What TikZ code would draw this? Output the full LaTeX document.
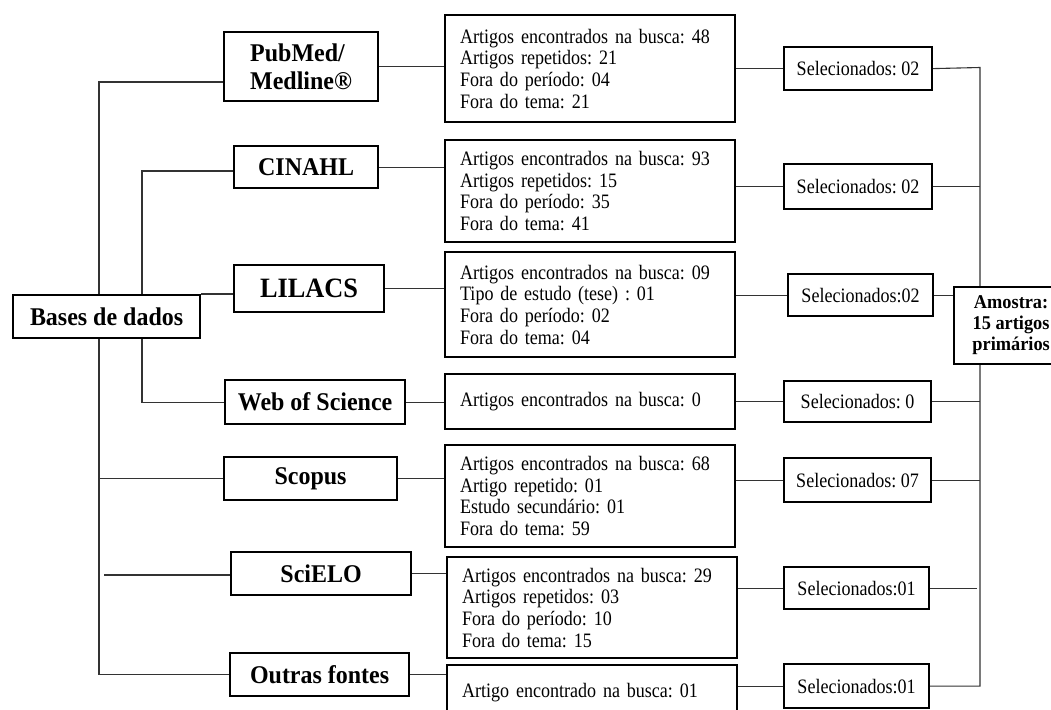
\documentclass[tikz,border=0pt]{standalone}
\usepackage{fontspec}
\setmainfont{Liberation Serif}
\newfontfamily\bodyserif[FakeStretch=0.88]{Liberation Serif}
\newfontfamily\labelserif[FakeStretch=0.94]{Liberation Serif}
\frenchspacing
\usetikzlibrary{positioning,backgrounds}

\begin{document}
\begin{tikzpicture}[x=1pt, y=-1pt,
  every node/.style={font=\bodyserif\fontsize{20.5}{21.7}\selectfont},
  dbbox/.style={draw, line width=2.2pt, fill=white, anchor=north west, inner sep=0pt, font=\labelserif\fontsize{25.5}{28}\selectfont\bfseries},
  infobox/.style={draw, line width=2.2pt, fill=white, anchor=north west, align=left, text width=260pt, inner xsep=15pt, inner ysep=0pt},
  selbox/.style={draw, line width=2.2pt, fill=white, anchor=north west, inner sep=0pt},
  link/.style={line width=1.1pt, black!80}]
  \useasboundingbox (0,0) rectangle (1051,709);

  % bases de dados
  \node[dbbox, minimum width=187pt, minimum height=43pt] (bases) at (12,294) {Bases de dados};
  \node[dbbox, minimum width=154pt, minimum height=69pt, align=left] (pubmed) at (223,31) {PubMed/\\Medline®};
  \node[dbbox, minimum width=144pt, minimum height=42pt] (cinahl) at (233,145) {CINAHL};
  \node[dbbox, minimum width=150pt, minimum height=47pt, font=\labelserif\fontsize{28}{30}\selectfont\bfseries] (lilacs) at (233,264) {LILACS};
  \node[dbbox, minimum width=180pt, minimum height=44pt] (wos) at (224,379) {Web of Science};
  \node[dbbox, minimum width=173pt, minimum height=43pt] (scopus) at (223,456) {Scopus};
  \node[dbbox, minimum width=180pt, minimum height=43pt] (scielo) at (230,551) {SciELO};
  \node[dbbox, minimum width=179pt, minimum height=43pt] (outras) at (229,652) {Outras fontes};

  % resultados da busca
  \node[infobox, minimum height=107pt] (r1) at (444,14) {Artigos encontrados na busca: 48\\Artigos repetidos: 21\\Fora do período: 04\\Fora do tema: 21};
  \node[infobox, minimum height=102pt] (r2) at (444,139) {Artigos encontrados na busca: 93\\Artigos repetidos: 15\\Fora do período: 35\\Fora do tema: 41};
  \node[infobox, minimum height=105pt] (r3) at (444,251) {Artigos encontrados na busca: 09\\Tipo de estudo (tese) : 01\\Fora do período: 02\\Fora do tema: 04};
  \node[infobox, minimum height=55pt] (r4) at (444,373) {Artigos encontrados na busca: 0};
  \node[infobox, minimum height=102pt] (r5) at (444,444) {Artigos encontrados na busca: 68\\Artigo repetido: 01\\Estudo secundário: 01\\Fora do tema: 59};
  \node[infobox, minimum height=101pt] (r6) at (446,556) {Artigos encontrados na busca: 29\\Artigos repetidos: 03\\Fora do período: 10\\Fora do tema: 15};
  \node[infobox, minimum height=55pt] (r7) at (446,664) {Artigo encontrado na busca: 01};

  % selecionados
  \node[selbox, minimum width=148pt, minimum height=43pt] (s1) at (783,46) {Selecionados: 02};
  \node[selbox, minimum width=148pt, minimum height=45pt] (s2) at (783,163) {Selecionados: 02};
  \node[selbox, minimum width=145pt, minimum height=42pt] (s3) at (787,273) {Selecionados:02};
  \node[selbox, minimum width=147pt, minimum height=41pt] (s4) at (783,380) {Selecionados: 0};
  \node[selbox, minimum width=147pt, minimum height=44pt] (s5) at (783,457) {Selecionados: 07};
  \node[selbox, minimum width=145pt, minimum height=42pt] (s6) at (783,566) {Selecionados:01};
  \node[selbox, minimum width=145pt, minimum height=44pt] (s7) at (783,663) {Selecionados:01};

  \node[selbox, minimum width=114pt, minimum height=77pt, align=center, font=\labelserif\fontsize{19.5}{21}\selectfont\bfseries] (amostra) at (953,286) {Amostra:\\15 artigos\\primários};

  \begin{scope}[on background layer]
    \coordinate (jA) at (99,82);
    \coordinate (jB) at (142,171);
    \coordinate (jC) at (980,67.5);
    \coordinate (sciend) at (104,575);
    \draw[link] (jA -| pubmed.west) -- (jA) -- (jA |- outras.west) -- (outras.west);
    \draw[link] (jA |- scopus.west) -- (scopus.west);
    \draw[link] (sciend) -- (sciend -| scielo.west);
    \draw[link] (jB -| cinahl.west) -- (jB) -- (jB |- wos.west) -- (wos.west);
    \draw[link] (bases.north east) -- (bases.north east -| lilacs.west);
    \foreach \a/\b in {pubmed/r1, cinahl/r2, lilacs/r3, wos/r4, scopus/r5, scielo/r6, outras/r7}
      \draw[link] (\a.east) -- (\a.east -| \b.west);
    \foreach \i in {1,...,7}
      \draw[link] (r\i.east |- s\i.west) -- (s\i.west);
    \draw[link] (s1.east) -- (jC) -- (jC |- s7.east) -- (s7.east);
    \foreach \i in {2,4,5}
      \draw[link] (s\i.east) -- (s\i.east -| jC);
    \draw[link] (s6.east) -- ([xshift=-3pt]s6.east -| jC);
    \draw[link] (s3.east) -- (s3.east -| amostra.west);
  \end{scope}
\end{tikzpicture}
\end{document}
